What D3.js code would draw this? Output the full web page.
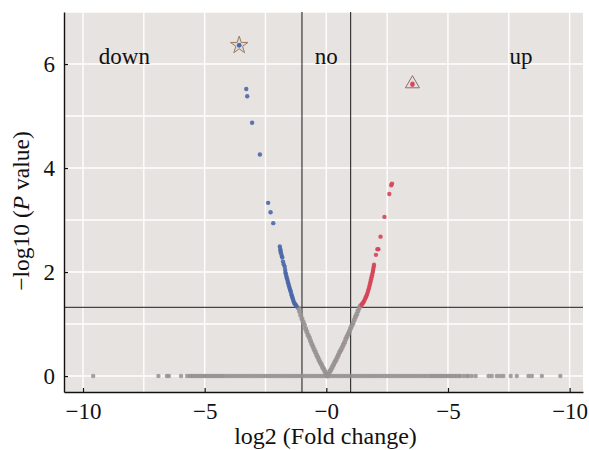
<!DOCTYPE html>
<html><head><meta charset="utf-8">
<script src="https://cdn.jsdelivr.net/npm/d3@7"></script>
<style>body{margin:0;background:#fff}svg{display:block}</style>
</head><body>
<svg id="chart" width="589" height="450"></svg>
<script>
// ---------- data ----------
const xTicks = [-10, -5, 0, 5, 10];
const xTickLabels = ["\u221210", "\u22125", "\u22120", "\u22125", "\u221210"];
const yTicks = [0, 2, 4, 6];
const yTickLabels = ["0", "2", "4", "6"];
const xGrid = [-10, -7.5, -5, -2.5, 0, 2.5, 5, 7.5, 10];
const yGrid = [0, 1, 2, 3, 4, 5, 6, 7];
const fcCut = [-1, 1];
const pCut = 1.32;
const regionNames = ["down", "no", "up"];
const regionX = [-8.3, 0, 8.0];
const regionY = [6.0, 6.0, 6.0];

// genes on the zero line (log2FC, -log10P = 0)
const zeroX = [-9.58, -6.90, -6.55, -6.47, -5.97, -5.72, -5.62, -5.55, -5.48, -5.40, -5.33, -5.25,
  -5.17, -5.10, -5.02, -4.95, -4.88, -4.80, -4.72, -4.65, -4.58, -4.50, -4.43, -4.36, -4.28,
  -4.2, -4.1, -4.0, -3.9, -3.8, -3.7, -3.6, -3.5, -3.4, -3.3, -3.2, -3.1, -3.0, -2.9, -2.8, -2.7,
  -2.6, -2.5, -2.4, -2.3, -2.2, -2.1, -2.0, -1.9, -1.8, -1.7, -1.6, -1.5, -1.4, -1.3, -1.2, -1.1,
  -1.0, -0.9, -0.8, -0.7, -0.6, -0.5, -0.4, -0.3, -0.2, -0.1, 0.0, 0.1, 0.2, 0.3, 0.4, 0.5, 0.6,
  0.7, 0.8, 0.9, 1.0, 1.1, 1.2, 1.3, 1.4, 1.5, 1.6, 1.7, 1.8, 1.9, 2.0, 2.1, 2.2, 2.3, 2.4, 2.5,
  2.6, 2.7, 2.8, 2.9, 3.0, 3.1, 3.2, 3.3, 3.4, 3.5, 3.6, 3.7, 3.8, 3.9, 4.0, 4.1, 4.2, 4.3,
  4.35, 4.42, 4.50, 4.57, 4.65, 4.72, 4.80, 4.88, 4.95, 5.03, 5.10, 5.18, 5.27, 5.35, 5.45, 5.50,
  5.64, 5.77, 5.84, 5.98, 6.14, 6.67, 6.80, 7.01, 7.15, 7.28, 7.58, 7.83, 8.31, 8.45, 8.86, 9.62];

// not-significant genes along the volcano arms
const grayX = [0.05, 0.00, -0.05, -0.10, -0.15, -0.20, -0.25, -0.30, -0.35, -0.40, -0.45, -0.50,
  -0.55, -0.60, -0.65, -0.70, -0.75, -0.80, -0.85, -0.90, -0.95, -1.00, -1.05, -1.10, -1.15,
  0.10, 0.15, 0.20, 0.25, 0.30, 0.35, 0.40, 0.45, 0.50, 0.55, 0.60, 0.65, 0.70, 0.75, 0.80, 0.85,
  0.90, 0.95, 1.00, 1.05, 1.10, 1.15, 1.20, 1.25, 1.30, 1.35, 1.40];
const grayY = [0.00, 0.04, 0.08, 0.13, 0.17, 0.22, 0.26, 0.31, 0.36, 0.41, 0.46, 0.51,
  0.57, 0.62, 0.68, 0.74, 0.79, 0.85, 0.91, 0.98, 1.04, 1.10, 1.17, 1.24, 1.31,
  0.04, 0.09, 0.13, 0.18, 0.22, 0.27, 0.31, 0.36, 0.41, 0.46, 0.50, 0.55, 0.60, 0.65, 0.71, 0.76,
  0.81, 0.86, 0.92, 0.97, 1.02, 1.08, 1.14, 1.19, 1.25, 1.31, 1.35];

// down-regulated genes
const downX = [-3.58, -3.29, -3.25, -3.05, -2.73, -2.39, -2.29, -2.18, -1.91, -1.89, -1.88, -1.86,
  -1.83, -1.81, -1.78, -1.75, -1.71, -1.69, -1.68, -1.66, -1.64, -1.62, -1.60, -1.58, -1.56,
  -1.54, -1.52, -1.50, -1.48, -1.46, -1.44, -1.42, -1.40, -1.38, -1.36, -1.34, -1.31, -1.28,
  -1.25, -1.22];
const downY = [6.36, 5.52, 5.38, 4.87, 4.26, 3.33, 3.15, 2.94, 2.49, 2.44, 2.40, 2.36,
  2.31, 2.28, 2.20, 2.15, 2.10, 2.04, 1.99, 1.96, 1.92, 1.88, 1.85, 1.81, 1.78,
  1.74, 1.71, 1.68, 1.65, 1.62, 1.58, 1.55, 1.52, 1.49, 1.46, 1.43, 1.40, 1.38,
  1.36, 1.34];

// up-regulated genes
const upX = [3.54, 2.70, 2.67, 2.59, 2.39, 2.23, 2.14, 2.10, 2.04, 1.96, 1.95, 1.93, 1.92, 1.90,
  1.88, 1.86, 1.84, 1.82, 1.80, 1.78, 1.76, 1.73, 1.71, 1.68, 1.66, 1.63, 1.60, 1.57, 1.54,
  1.51, 1.48, 1.45];
const upY = [5.60, 3.70, 3.67, 3.50, 3.06, 2.68, 2.44, 2.44, 2.33, 2.14, 2.10, 2.06, 2.02, 1.98,
  1.94, 1.90, 1.86, 1.82, 1.78, 1.74, 1.70, 1.66, 1.62, 1.58, 1.55, 1.52, 1.49, 1.46, 1.43,
  1.41, 1.39, 1.37];

// highlighted genes
const starX = [-3.58], starY = [6.36];
const triX = [3.54], triY = [5.62];

// ---------- drawing ----------
const svg = d3.select("#chart");
const L = 64, R = 583, T = 12, B = 392;
const x = d3.scaleLinear().domain([-10.78, 10.55]).range([L, R]);
const y = d3.scaleLinear().domain([-0.307, 7]).range([B, T]);
const serif = "'Liberation Serif', 'Times New Roman', serif";

svg.append("rect").attr("x", L).attr("y", T).attr("width", R - L).attr("height", B - T)
  .attr("fill", "#e7e3e0");

const g = svg.append("g");
g.selectAll(".vg").data(xGrid).join("line")
  .attr("x1", d => x(d)).attr("x2", d => x(d)).attr("y1", T).attr("y2", B)
  .attr("stroke", "#fff").attr("stroke-width", 1.4);
g.selectAll(".hg").data(yGrid).join("line")
  .attr("x1", L).attr("x2", R).attr("y1", d => y(d)).attr("y2", d => y(d))
  .attr("stroke", "#fff").attr("stroke-width", 1.4);

// points
const pts = g.append("g");
function dots(xs, ys, color, op, r) {
  pts.append("g").selectAll("circle").data(xs.map((v, i) => [v, ys[i]])).join("circle")
    .attr("cx", d => x(d[0])).attr("cy", d => y(d[1])).attr("r", r)
    .attr("fill", color).attr("fill-opacity", op);
}
dots(zeroX, zeroX.map(() => 0), "#979191", 0.85, 2.2);
dots(grayX, grayY, "#979191", 0.9, 2.5);
dots(downX, downY, "#4a67a8", 0.9, 2.2);
dots(upX, upY, "#d64457", 0.9, 2.2);

// threshold lines
g.selectAll(".vc").data(fcCut).join("line")
  .attr("x1", d => x(d)).attr("x2", d => x(d)).attr("y1", T).attr("y2", B)
  .attr("stroke", "#2b2b2b").attr("stroke-width", 1.1);
g.append("line").attr("x1", L).attr("x2", R).attr("y1", y(pCut)).attr("y2", y(pCut))
  .attr("stroke", "#444").attr("stroke-width", 1.1);

// highlight symbols
g.selectAll(".star").data(starX.map((v, i) => [v, starY[i]])).join("path")
  .attr("d", d3.symbol(d3.symbolStar, 95))
  .attr("transform", d => `translate(${x(d[0])},${y(d[1])})`)
  .attr("fill", "#c9d3e0").attr("fill-opacity", 0.5).attr("stroke", "#a07a5a").attr("stroke-width", 1);
g.selectAll(".tri").data(triX.map((v, i) => [v, triY[i]])).join("path")
  .attr("d", d3.symbol(d3.symbolTriangle, 85))
  .attr("transform", d => `translate(${x(d[0])},${y(d[1])})`)
  .attr("fill", "#eadada").attr("fill-opacity", 0.4).attr("stroke", "#8a6e6e").attr("stroke-width", 1);
pts.raise();
dots(starX, starY, "#4a67a8", 0.9, 2.2);
dots(triX, triY, "#d64457", 0.9, 2.2);

// region labels
g.selectAll(".reg").data(regionNames).join("text")
  .attr("x", (d, i) => x(regionX[i])).attr("y", (d, i) => y(regionY[i]))
  .attr("text-anchor", "middle").attr("font-family", serif).attr("font-size", 23)
  .attr("fill", "#111").text(d => d);

// axes
const ax = svg.append("g").attr("transform", `translate(0,${B})`)
  .call(d3.axisBottom(x).tickValues(xTicks).tickFormat((d, i) => xTickLabels[i])
    .tickSizeInner(-4).tickSizeOuter(0).tickPadding(11));
const ay = svg.append("g").attr("transform", `translate(${L},0)`)
  .call(d3.axisLeft(y).tickValues(yTicks).tickFormat((d, i) => yTickLabels[i])
    .tickSizeInner(-4).tickSizeOuter(0).tickPadding(9));
[ax, ay].forEach(a => {
  a.select(".domain").attr("stroke", "#111").attr("stroke-width", 1.4);
  a.selectAll(".tick line").attr("stroke", "#111").attr("stroke-width", 1.2);
  a.selectAll(".tick text").attr("font-family", serif).attr("font-size", 23).attr("fill", "#111");
});

// titles
svg.append("text").attr("x", 325.5).attr("y", 444).attr("text-anchor", "middle")
  .attr("font-family", serif).attr("font-size", 24).attr("fill", "#111")
  .text("log2 (Fold change)");
const yt = svg.append("text").attr("transform", "translate(29,211) rotate(-90)")
  .attr("text-anchor", "middle").attr("font-family", serif).attr("font-size", 23.5).attr("fill", "#111");
yt.append("tspan").text("\u2212log10 (");
yt.append("tspan").attr("font-style", "italic").text("P");
yt.append("tspan").text(" value)");
</script>
</body></html>
